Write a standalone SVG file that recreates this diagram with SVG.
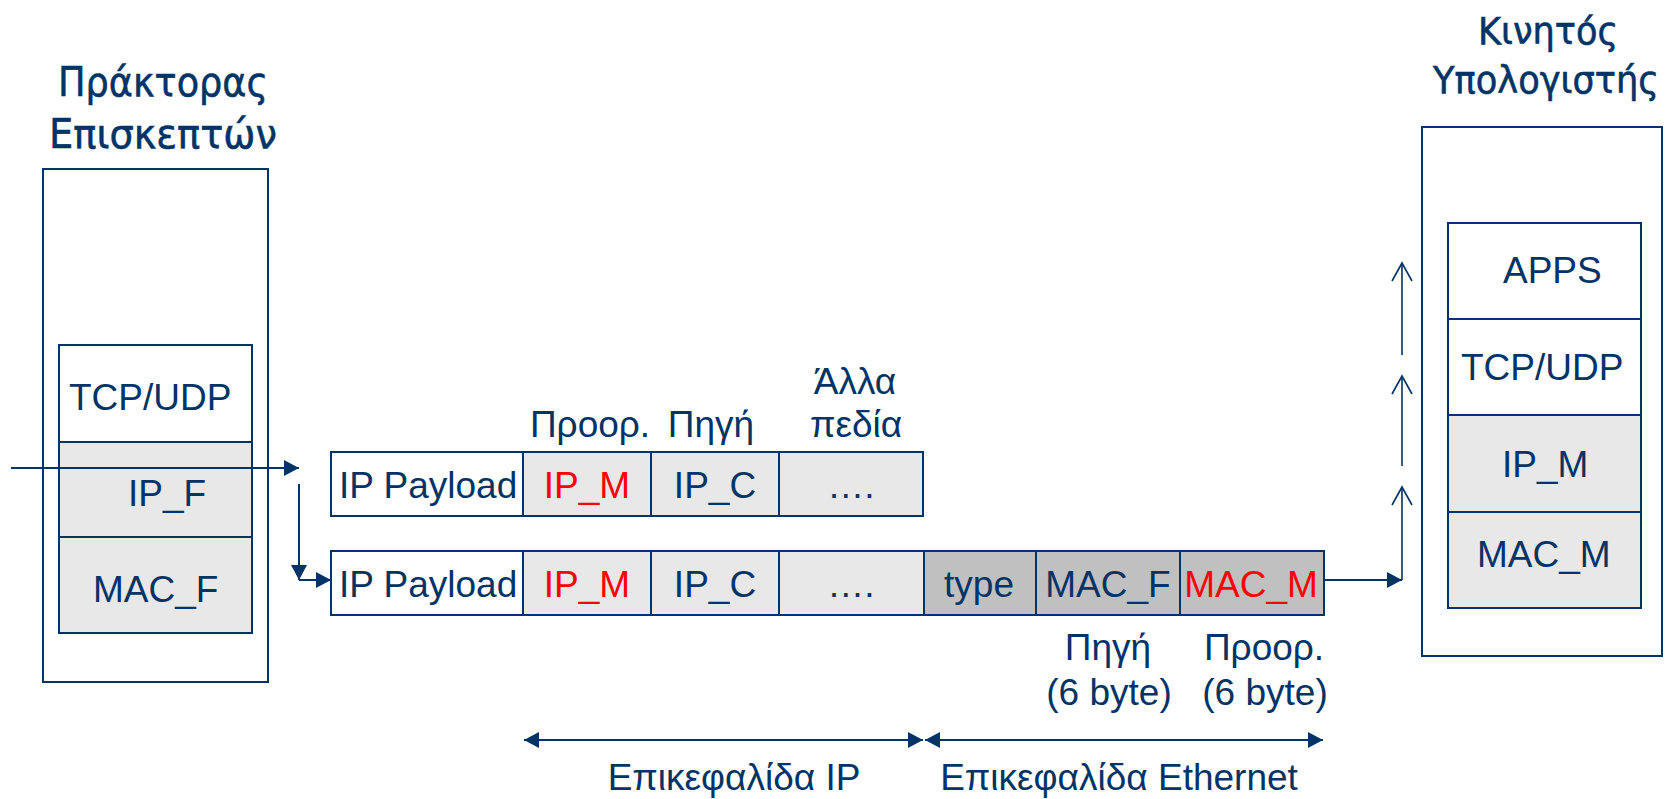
<svg xmlns="http://www.w3.org/2000/svg" width="1679" height="799" viewBox="0 0 1679 799">
<style>
.box{fill:#FFFFFF;stroke:#003366;stroke-width:2}
.lg{fill:#E8E8E8;stroke:#003366;stroke-width:2}
.dg{fill:#C0C0C0;stroke:#003366;stroke-width:2}
.t{font-family:"Liberation Sans",Arial,sans-serif;font-size:37px;fill:#003366}
.c{text-anchor:middle}
.red{fill:#FF0000}
.title{font-family:"DejaVu Sans","Noto Sans",sans-serif;font-size:41px;fill:#003366;stroke:#003366;stroke-width:0.6;text-anchor:middle}
.title2{font-size:37px}
.ln{fill:none;stroke:#003366;stroke-width:2}
.ln2{fill:none;stroke:#003366;stroke-width:1.6}
</style>
<defs>
<marker id="ah" viewBox="0 0 15 16" refX="15" refY="8" markerWidth="15" markerHeight="16" markerUnits="userSpaceOnUse" orient="auto-start-reverse">
<path d="M0,0 L15,8 L0,16 z" fill="#003366"/>
</marker>
<marker id="oa" viewBox="-1 -1 21 22" refX="18" refY="10" markerWidth="21" markerHeight="22" markerUnits="userSpaceOnUse" orient="auto">
<path d="M0,0 L18,10 L0,20" fill="none" stroke="#003366" stroke-width="1.6"/>
</marker>
</defs>

<g id="agent">
<text class="title" x="163" y="96" textLength="210" lengthAdjust="spacingAndGlyphs">Πράκτορας</text>
<text class="title" x="163" y="148" textLength="228" lengthAdjust="spacingAndGlyphs">Επισκεπτών</text>
<rect class="box" x="43" y="169" width="225" height="513"/>
<rect class="box" x="59" y="345" width="193" height="97"/>
<rect class="lg" x="59" y="442" width="193" height="95"/>
<rect class="lg" x="59" y="537" width="193" height="96"/>
<text class="t" x="69" y="410">TCP/UDP</text>
<text class="t" x="128" y="506">IP_F</text>
<text class="t" x="93" y="602">MAC_F</text>
</g>

<g id="mobile">
<text class="title title2" x="1548" y="44" textLength="140" lengthAdjust="spacingAndGlyphs">Κινητός</text>
<text class="title title2" x="1546" y="93" textLength="226" lengthAdjust="spacingAndGlyphs">Υπολογιστής</text>
<rect class="box" x="1422" y="127" width="240" height="529"/>
<rect class="box" x="1448" y="223" width="193" height="96"/>
<rect class="box" x="1448" y="319" width="193" height="96"/>
<rect class="lg" x="1448" y="415" width="193" height="97"/>
<rect class="lg" x="1448" y="512" width="193" height="96"/>
<text class="t" x="1503" y="283">APPS</text>
<text class="t" x="1461" y="380">TCP/UDP</text>
<text class="t" x="1502" y="477">IP_M</text>
<text class="t" x="1477" y="567">MAC_M</text>
</g>

<g id="ip-packet">
<rect class="box" x="331" y="452" width="192" height="64"/>
<rect class="lg" x="523" y="452" width="128" height="64"/>
<rect class="lg" x="651" y="452" width="128" height="64"/>
<rect class="lg" x="779" y="452" width="144" height="64"/>
<text class="t" x="339" y="498">IP Payload</text>
<text class="t c red" x="587" y="498">IP_M</text>
<text class="t c" x="715" y="498">IP_C</text>
<text class="t c" x="851" y="498">….</text>
<text class="t c" x="590" y="437">Προορ.</text>
<text class="t c" x="711" y="437">Πηγή</text>
<text class="t c" x="855" y="394">Άλλα</text>
<text class="t c" x="856" y="437">πεδία</text>
</g>

<g id="frame">
<rect class="box" x="331" y="551" width="192" height="64"/>
<rect class="lg" x="523" y="551" width="128" height="64"/>
<rect class="lg" x="651" y="551" width="128" height="64"/>
<rect class="lg" x="779" y="551" width="145" height="64"/>
<rect class="dg" x="924" y="551" width="112" height="64"/>
<rect class="dg" x="1036" y="551" width="144" height="64"/>
<rect class="dg" x="1180" y="551" width="144" height="64"/>
<text class="t" x="339" y="597">IP Payload</text>
<text class="t c red" x="587" y="597">IP_M</text>
<text class="t c" x="715" y="597">IP_C</text>
<text class="t c" x="851" y="597">….</text>
<text class="t c" x="979" y="597">type</text>
<text class="t c" x="1108" y="597">MAC_F</text>
<text class="t c red" x="1251" y="597">MAC_M</text>
<text class="t c" x="1108" y="660">Πηγή</text>
<text class="t c" x="1109" y="705">(6 byte)</text>
<text class="t c" x="1264" y="660">Προορ.</text>
<text class="t c" x="1265" y="705">(6 byte)</text>
</g>

<g id="headers">
<text class="t c" x="734" y="790">Επικεφαλίδα IP</text>
<text class="t c" x="1119" y="790">Επικεφαλίδα Ethernet</text>
</g>

<g id="connectors">
<line class="ln" x1="11" y1="468" x2="299" y2="468" marker-end="url(#ah)"/>
<line class="ln" x1="299" y1="484" x2="299" y2="580" marker-end="url(#ah)"/>
<line class="ln" x1="299" y1="580" x2="331" y2="580" marker-end="url(#ah)"/>
<line class="ln" x1="1324" y1="580" x2="1402" y2="580" marker-end="url(#ah)"/>
<line class="ln2" x1="1402" y1="580" x2="1402" y2="487" marker-end="url(#oa)"/>
<line class="ln2" x1="1402" y1="466" x2="1402" y2="376" marker-end="url(#oa)"/>
<line class="ln2" x1="1402" y1="355" x2="1402" y2="263" marker-end="url(#oa)"/>
<line class="ln" x1="524" y1="740" x2="923" y2="740" marker-start="url(#ah)" marker-end="url(#ah)"/>
<line class="ln" x1="925" y1="740" x2="1323" y2="740" marker-start="url(#ah)" marker-end="url(#ah)"/>
</g>
</svg>
